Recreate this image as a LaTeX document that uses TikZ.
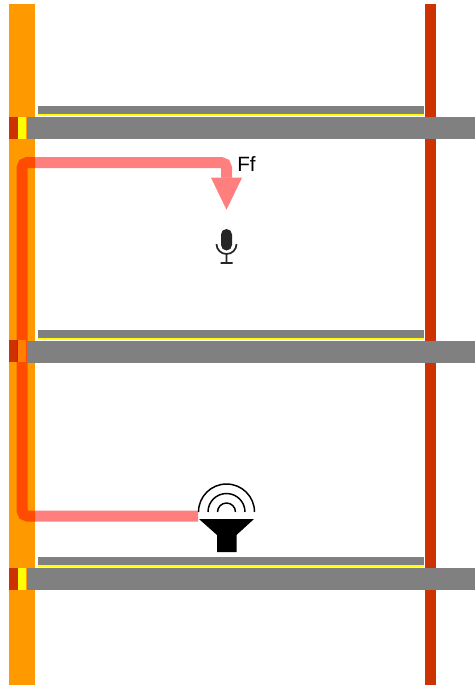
\documentclass[tikz,border=0pt]{standalone}
\usepackage{fontspec}
\setmainfont{Liberation Sans}
\usetikzlibrary{arrows.meta,positioning,calc}
\definecolor{column}{HTML}{FF9900}
\definecolor{rust}{HTML}{CC3300}
\definecolor{slabgray}{HTML}{808080}
\definecolor{stripe}{HTML}{FFFF00}
\tikzset{
  columnfill/.style={fill=column},
  rustfill/.style={fill=rust},
  slabfill/.style={fill=slabgray},
  stripefill/.style={fill=stripe},
  iconbox/.style={inner sep=0pt, minimum width=42pt, minimum height=51pt},
  signal/.style={-{Triangle[width=23.25pt,length=24pt,line width=0pt]}, draw=red, draw opacity=0.5,
                 fill opacity=0.5, line width=8.25pt, rounded corners=4pt},
  wave/.style={draw=black, line width=1.1pt},
  lbl/.style={font=\fontsize{15.5pt}{17pt}\selectfont, inner sep=0pt, anchor=base west}
}

\begin{document}
\begin{tikzpicture}[x=0.75pt,y=-0.75pt]
  \useasboundingbox (0,0) rectangle (475,685);
  \fill[white] (0,0) rectangle (475,685);

  % columns
  \fill[columnfill] (9,4) rectangle (35,685);
  \fill[rustfill] (425,4) rectangle (436,685);

  % column ends
  \foreach \y in {117,340,568}{
    \fill[rustfill] (9,\y) rectangle (17.5,\y+22);
    \fill[stripefill] (17.5,\y) rectangle (26,\y+22);
  }

  \node[iconbox] (mic) at (226.5,244) {};
  \node[iconbox] (spk) at (226.5,516) {};
  \coordinate (low) at (22,516);
  \coordinate (high) at (22,162.5);
  \coordinate (turn) at (226.5,162.5);
  \draw[signal] (spk.west) -- (low) -- (high) -- (turn) -- (mic.north);
  \node[lbl] (ff) at (237,171.5) {Ff};

  % floors
  \foreach \y in {106,330,557}{
    \fill[slabfill] (38,\y) rectangle (424,\y+8);
    \fill[stripefill] (38,\y+8) rectangle (424,\y+10);
    \fill[slabfill] (26.5,\y+10.5) rectangle (475,\y+33);
  }

  % microphone
  \fill[black!85] (221,234.5) arc[start angle=180,end angle=360,radius=5.5] -- (232,245)
    arc[start angle=0,end angle=180,radius=5.5] -- cycle;
  \draw[black!85, line width=1.3pt] (216.5,244) arc[start angle=180,end angle=0,radius=10]
    (226.5,254) -- (226.5,263) (220.5,263) -- (232.5,263);

  % speaker
  \draw[wave] (198.5,512) arc[start angle=180,end angle=360,radius=28];
  \draw[wave] (208,512) arc[start angle=180,end angle=360,radius=18.5];
  \draw[wave] (217.5,512) arc[start angle=180,end angle=360,radius=9];
  \fill[black] (199,519) -- (254,519) -- (236.5,535) -- (236.5,552) -- (217,552) -- (217,535) -- cycle;
\end{tikzpicture}
\end{document}
